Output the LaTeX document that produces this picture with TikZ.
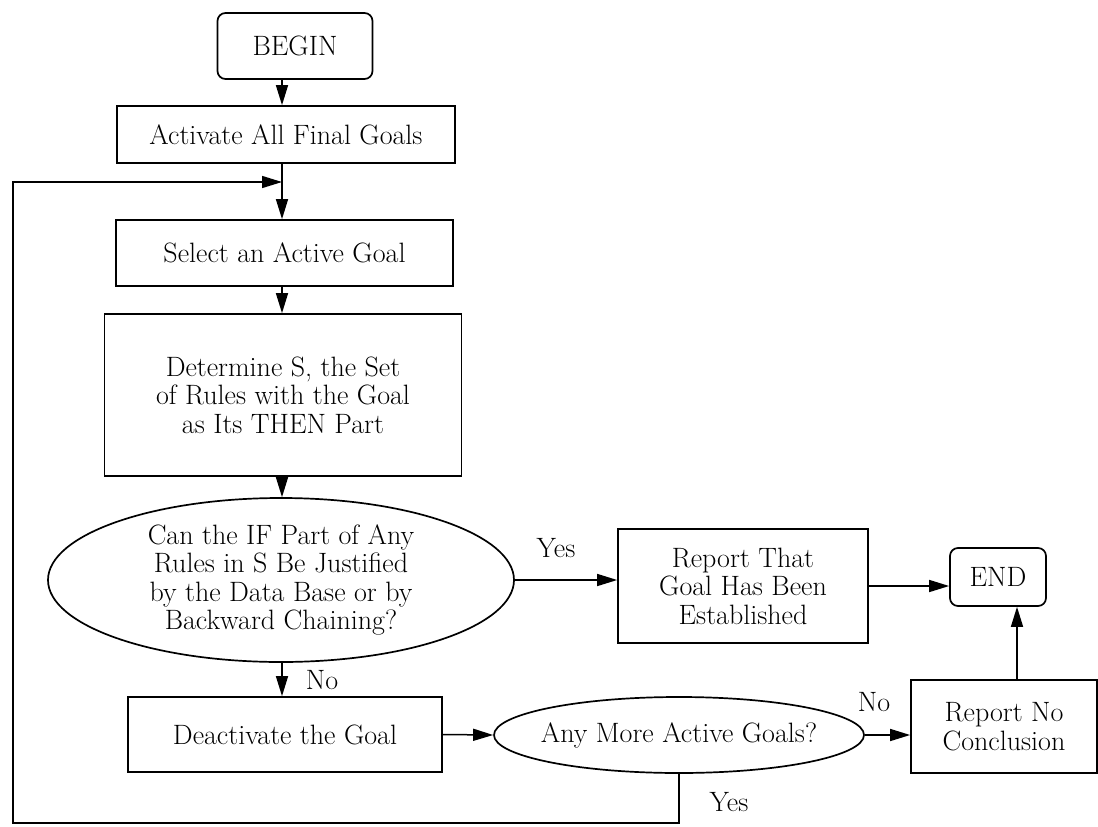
\documentclass[tikz,border=0pt]{standalone}
\usetikzlibrary{arrows.meta,shapes.geometric}
\begin{document}
\begin{tikzpicture}[x=1pt,y=-1pt,
  every node/.style={font=\fontsize{28}{28.5}\selectfont, align=center, inner sep=0pt},
  box/.style={draw, line width=1.7pt, rectangle},
  term/.style={draw, line width=1.7pt, rectangle, rounded corners=8pt},
  decision/.style={draw, line width=1.7pt, ellipse},
  arr/.style={-{Triangle[length=20pt,width=12pt]}, line width=1.5pt}]

% page area
\useasboundingbox (0,0) rectangle (1098,827);
\fill[white] (0,0) rectangle (1098,827);

% main column of the flow
\node[term, minimum width=155pt, minimum height=66pt] (begin) at (295,46) {BEGIN};
\node[box, minimum width=338pt, minimum height=57pt] (act) at (286,134.5) {Activate All Final Goals};
\node[box, minimum width=337pt, minimum height=66pt] (sel) at (284.5,253) {Select an Active Goal};
\node[box, minimum width=357pt, minimum height=162pt] (det) at (283,395)
  {Determine S, the Set\\of Rules with the Goal\\as Its THEN Part};
\node[decision, minimum width=466pt, minimum height=164pt] (can) at (281,580)
  {Can the IF Part of Any\\Rules in S Be Justified\\by the Data Base or by\\Backward Chaining?};
\node[box, minimum width=314pt, minimum height=75pt] (deact) at (285,734.5) {Deactivate the Goal};

% right-hand outcomes
\node[box, minimum width=250pt, minimum height=114pt] (rep) at (743,586)
  {Report That\\Goal Has Been\\Established};
\node[term, minimum width=96pt, minimum height=58pt] (end) at (998,577) {END};
\node[decision, inner xsep=-12pt, minimum width=370pt, minimum height=76pt] (more) at (679,735)
  {Any More Active Goals?};
\node[box, minimum width=186pt, minimum height=93pt] (nocon) at (1004,726.5)
  {Report No\\Conclusion};

% branch labels
\node (yes1) at (556,548) {Yes};
\node (no1) at (322,680) {No};
\node (no2) at (874,702) {No};
\node (yes2) at (729,802) {Yes};

% helper coordinates for the connectors
\coordinate (c) at (282,0);
\coordinate (ux) at (1017,0);
\coordinate (lb) at (13,823);
\coordinate (j) at (282,182);

% connectors
\draw[arr] (begin.south -| c) -- (act.north -| c);
\draw[arr] (act.south -| c) -- (sel.north -| c);
\draw[arr] (sel.south -| c) -- (det.north -| c);
\draw[arr] (det.south -| c) -- (can.north -| c);
\draw[arr] (can.south -| c) -- (deact.north -| c);
\draw[arr] (can.east) -- (rep.west |- can.east);
\draw[arr] (rep.east) -- (end.west |- rep.east);
\draw[arr] (deact.east) -- (more.west);
\draw[arr] (more.east) -- (nocon.west |- more.east);
\draw[arr] (nocon.north -| ux) -- (end.south -| ux);
\draw[arr] (more.south) |- (lb) |- (j);
\end{tikzpicture}
\end{document}
